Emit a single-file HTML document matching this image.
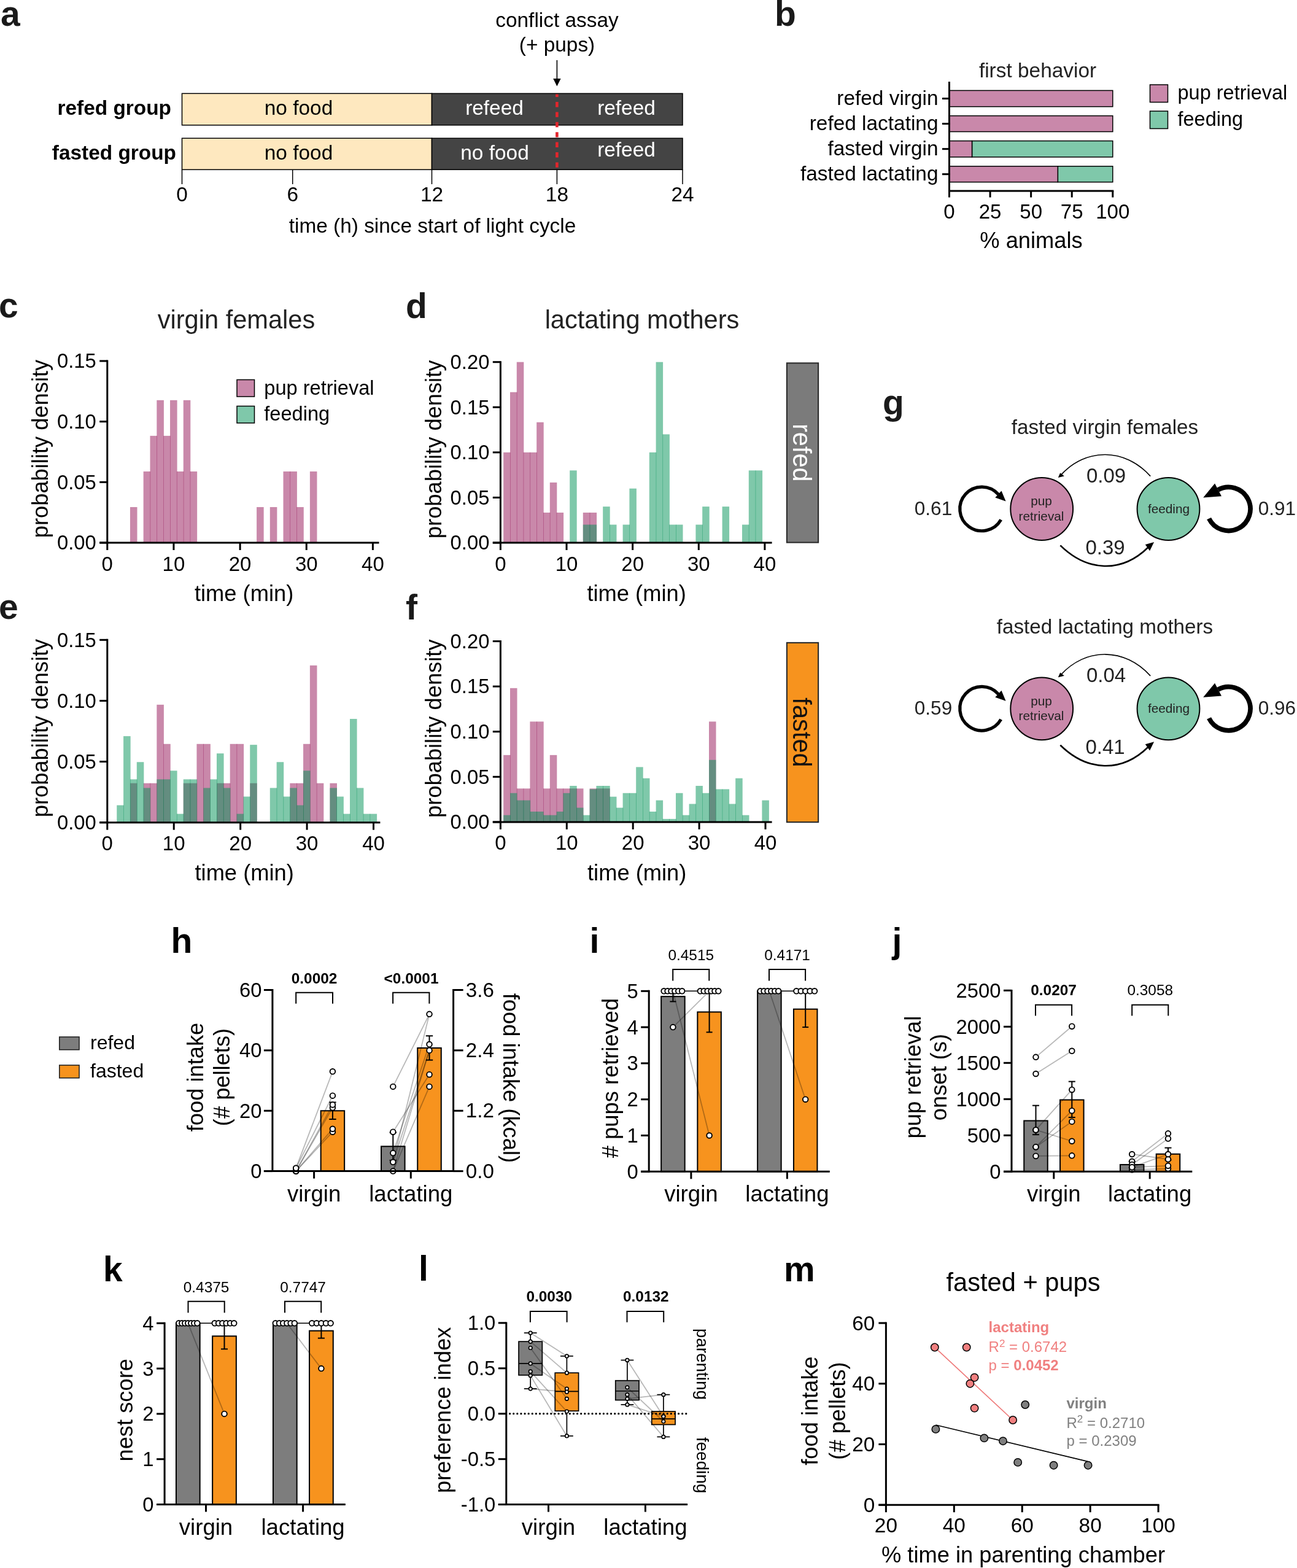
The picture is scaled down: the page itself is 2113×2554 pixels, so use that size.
<!DOCTYPE html>
<html lang="en">
<head>
<meta charset="utf-8">
<title>Figure</title>
<style>
html,body{margin:0;padding:0;background:#fff;}
body{width:2113px;height:2554px;overflow:hidden;}
svg{display:block;font-family:"Liberation Sans", sans-serif;}
svg text{white-space:pre;}
</style>
</head>
<body>
<svg width="2113" height="2554" viewBox="0 0 2113 2554">
<rect x="0" y="0" width="2113" height="2554" fill="#ffffff"/>
<g>
<text x="1.00" y="41.80" font-size="57" font-weight="bold" fill="#1a1a1a">a</text>
<rect x="296.50" y="152.30" width="407.00" height="51.50" fill="#fee8bf" stroke="#000" stroke-width="1.5"/>
<rect x="703.50" y="152.30" width="408.50" height="51.50" fill="#444444" stroke="#000" stroke-width="1.5"/>
<rect x="296.50" y="225.20" width="407.00" height="51.10" fill="#fee8bf" stroke="#000" stroke-width="1.5"/>
<rect x="703.50" y="225.20" width="408.50" height="51.10" fill="#444444" stroke="#000" stroke-width="1.5"/>
<line x1="907.40" y1="153.50" x2="907.40" y2="275.60" stroke="#e3262d" stroke-width="4.6" stroke-dasharray="8.4 8" stroke-dashoffset="3.9"/>
<line x1="296.50" y1="276.30" x2="296.50" y2="300.00" stroke="#000" stroke-width="1.5"/>
<text x="296.50" y="327.50" font-size="33.4" text-anchor="middle" fill="#000">0</text>
<line x1="476.70" y1="276.30" x2="476.70" y2="300.00" stroke="#000" stroke-width="1.5"/>
<text x="476.70" y="327.50" font-size="33.4" text-anchor="middle" fill="#000">6</text>
<line x1="703.50" y1="276.30" x2="703.50" y2="300.00" stroke="#000" stroke-width="1.5"/>
<text x="703.50" y="327.50" font-size="33.4" text-anchor="middle" fill="#000">12</text>
<line x1="907.40" y1="276.30" x2="907.40" y2="300.00" stroke="#000" stroke-width="1.5"/>
<text x="907.40" y="327.50" font-size="33.4" text-anchor="middle" fill="#000">18</text>
<line x1="1112.00" y1="276.30" x2="1112.00" y2="300.00" stroke="#000" stroke-width="1.5"/>
<text x="1112.00" y="327.50" font-size="33.4" text-anchor="middle" fill="#000">24</text>
<text x="486.50" y="186.90" font-size="33.4" text-anchor="middle" fill="#000">no food</text>
<text x="486.50" y="259.70" font-size="33.4" text-anchor="middle" fill="#000">no food</text>
<text x="805.50" y="187.10" font-size="33.4" text-anchor="middle" fill="#fff">refeed</text>
<text x="1020.50" y="187.10" font-size="33.4" text-anchor="middle" fill="#fff">refeed</text>
<text x="806.00" y="260.00" font-size="33.4" text-anchor="middle" fill="#fff">no food</text>
<text x="1020.50" y="255.00" font-size="33.4" text-anchor="middle" fill="#fff">refeed</text>
<text x="279.00" y="187.00" font-size="33.4" text-anchor="end" font-weight="bold" fill="#000">refed group</text>
<text x="287.00" y="260.00" font-size="33.4" text-anchor="end" font-weight="bold" fill="#000">fasted group</text>
<text x="907.50" y="43.70" font-size="33.4" text-anchor="middle" fill="#000">conflict assay</text>
<text x="907.50" y="83.70" font-size="33.4" text-anchor="middle" fill="#000">(+ pups)</text>
<line x1="907.40" y1="98.00" x2="907.40" y2="130.00" stroke="#000" stroke-width="1.6"/>
<path d="M901.2 128 L913.6 128 L907.4 140.5 Z" fill="#000"/>
<text x="704.50" y="379.00" font-size="33.4" text-anchor="middle" fill="#000">time (h) since start of light cycle</text>
</g>
<g>
<text x="1262.00" y="41.50" font-size="57" font-weight="bold" fill="#1a1a1a">b</text>
<text x="1690.50" y="126.00" font-size="33.4" text-anchor="middle" fill="#222">first behavior</text>
<rect x="1546.50" y="147.40" width="266.30" height="26.30" fill="#c988aa" stroke="#000" stroke-width="1.5"/>
<line x1="1535.00" y1="160.55" x2="1546.50" y2="160.55" stroke="#000" stroke-width="3"/>
<text x="1528.50" y="170.75" font-size="33.4" text-anchor="end" fill="#000">refed virgin</text>
<rect x="1546.50" y="188.60" width="266.30" height="25.90" fill="#c988aa" stroke="#000" stroke-width="1.5"/>
<line x1="1535.00" y1="201.55" x2="1546.50" y2="201.55" stroke="#000" stroke-width="3"/>
<text x="1528.50" y="211.75" font-size="33.4" text-anchor="end" fill="#000">refed lactating</text>
<rect x="1583.52" y="229.50" width="229.28" height="26.30" fill="#7fc8aa" stroke="#000" stroke-width="1.5"/>
<rect x="1546.50" y="229.50" width="37.02" height="26.30" fill="#c988aa" stroke="#000" stroke-width="1.5"/>
<line x1="1535.00" y1="242.65" x2="1546.50" y2="242.65" stroke="#000" stroke-width="3"/>
<text x="1528.50" y="252.85" font-size="33.4" text-anchor="end" fill="#000">fasted virgin</text>
<rect x="1723.32" y="270.80" width="89.48" height="25.80" fill="#7fc8aa" stroke="#000" stroke-width="1.5"/>
<rect x="1546.50" y="270.80" width="176.82" height="25.80" fill="#c988aa" stroke="#000" stroke-width="1.5"/>
<line x1="1535.00" y1="283.70" x2="1546.50" y2="283.70" stroke="#000" stroke-width="3"/>
<text x="1528.50" y="293.90" font-size="33.4" text-anchor="end" fill="#000">fasted lactating</text>
<line x1="1546.50" y1="133.00" x2="1546.50" y2="312.40" stroke="#000" stroke-width="3"/>
<line x1="1545.00" y1="310.90" x2="1814.30" y2="310.90" stroke="#000" stroke-width="3"/>
<line x1="1546.50" y1="310.90" x2="1546.50" y2="321.50" stroke="#000" stroke-width="3"/>
<text x="1546.50" y="355.80" font-size="33.1" text-anchor="middle" fill="#000">0</text>
<line x1="1613.08" y1="310.90" x2="1613.08" y2="321.50" stroke="#000" stroke-width="3"/>
<text x="1613.08" y="355.80" font-size="33.1" text-anchor="middle" fill="#000">25</text>
<line x1="1679.65" y1="310.90" x2="1679.65" y2="321.50" stroke="#000" stroke-width="3"/>
<text x="1679.65" y="355.80" font-size="33.1" text-anchor="middle" fill="#000">50</text>
<line x1="1746.22" y1="310.90" x2="1746.22" y2="321.50" stroke="#000" stroke-width="3"/>
<text x="1746.22" y="355.80" font-size="33.1" text-anchor="middle" fill="#000">75</text>
<line x1="1812.80" y1="310.90" x2="1812.80" y2="321.50" stroke="#000" stroke-width="3"/>
<text x="1812.80" y="355.80" font-size="33.1" text-anchor="middle" fill="#000">100</text>
<text x="1680.00" y="403.50" font-size="36.3" text-anchor="middle" fill="#000">% animals</text>
<rect x="1873.50" y="138.00" width="29.00" height="28.50" fill="#c988aa" stroke="#000" stroke-width="1.5"/>
<rect x="1873.50" y="181.00" width="29.00" height="28.50" fill="#7fc8aa" stroke="#000" stroke-width="1.5"/>
<text x="1918.50" y="162.40" font-size="32.5" fill="#000">pup retrieval</text>
<text x="1918.50" y="204.60" font-size="32.5" fill="#000">feeding</text>
</g>
<g>
<text x="-2.00" y="517.00" font-size="57" font-weight="bold" fill="#1a1a1a">c</text>
<text x="385.00" y="534.80" font-size="41.6" text-anchor="middle" fill="#222">virgin females</text>
<rect x="211.95" y="825.96" width="11.55" height="58.04" fill="#931155" fill-opacity="0.5"/>
<rect x="233.65" y="767.92" width="11.55" height="116.08" fill="#931155" fill-opacity="0.5"/>
<rect x="244.50" y="709.88" width="11.55" height="174.12" fill="#931155" fill-opacity="0.5"/>
<rect x="255.35" y="651.84" width="11.55" height="232.16" fill="#931155" fill-opacity="0.5"/>
<rect x="266.20" y="709.88" width="11.55" height="174.12" fill="#931155" fill-opacity="0.5"/>
<rect x="277.05" y="651.84" width="11.55" height="232.16" fill="#931155" fill-opacity="0.5"/>
<rect x="287.90" y="767.92" width="11.55" height="116.08" fill="#931155" fill-opacity="0.5"/>
<rect x="298.75" y="651.84" width="11.55" height="232.16" fill="#931155" fill-opacity="0.5"/>
<rect x="309.60" y="767.92" width="11.55" height="116.08" fill="#931155" fill-opacity="0.5"/>
<rect x="418.10" y="825.96" width="11.55" height="58.04" fill="#931155" fill-opacity="0.5"/>
<rect x="439.80" y="825.96" width="11.55" height="58.04" fill="#931155" fill-opacity="0.5"/>
<rect x="461.50" y="767.92" width="11.55" height="116.08" fill="#931155" fill-opacity="0.5"/>
<rect x="472.35" y="767.92" width="11.55" height="116.08" fill="#931155" fill-opacity="0.5"/>
<rect x="483.20" y="825.96" width="11.55" height="58.04" fill="#931155" fill-opacity="0.5"/>
<rect x="504.90" y="767.92" width="11.55" height="116.08" fill="#931155" fill-opacity="0.5"/>
<line x1="174.80" y1="586.50" x2="174.80" y2="885.50" stroke="#000" stroke-width="3"/>
<line x1="162.20" y1="884.00" x2="617.50" y2="884.00" stroke="#000" stroke-width="3"/>
<line x1="162.20" y1="884.00" x2="174.80" y2="884.00" stroke="#000" stroke-width="3"/>
<text x="156.80" y="895.30" font-size="32.8" text-anchor="end" fill="#000">0.00</text>
<line x1="162.20" y1="785.33" x2="174.80" y2="785.33" stroke="#000" stroke-width="3"/>
<text x="156.80" y="796.63" font-size="32.8" text-anchor="end" fill="#000">0.05</text>
<line x1="162.20" y1="686.67" x2="174.80" y2="686.67" stroke="#000" stroke-width="3"/>
<text x="156.80" y="697.97" font-size="32.8" text-anchor="end" fill="#000">0.10</text>
<line x1="162.20" y1="588.00" x2="174.80" y2="588.00" stroke="#000" stroke-width="3"/>
<text x="156.80" y="599.30" font-size="32.8" text-anchor="end" fill="#000">0.15</text>
<line x1="174.80" y1="884.00" x2="174.80" y2="896.00" stroke="#000" stroke-width="3"/>
<text x="174.80" y="929.50" font-size="33" text-anchor="middle" fill="#000">0</text>
<line x1="282.95" y1="884.00" x2="282.95" y2="896.00" stroke="#000" stroke-width="3"/>
<text x="282.95" y="929.50" font-size="33" text-anchor="middle" fill="#000">10</text>
<line x1="391.10" y1="884.00" x2="391.10" y2="896.00" stroke="#000" stroke-width="3"/>
<text x="391.10" y="929.50" font-size="33" text-anchor="middle" fill="#000">20</text>
<line x1="499.25" y1="884.00" x2="499.25" y2="896.00" stroke="#000" stroke-width="3"/>
<text x="499.25" y="929.50" font-size="33" text-anchor="middle" fill="#000">30</text>
<line x1="607.40" y1="884.00" x2="607.40" y2="896.00" stroke="#000" stroke-width="3"/>
<text x="607.40" y="929.50" font-size="33" text-anchor="middle" fill="#000">40</text>
<text x="78.30" y="731.00" font-size="36.3" text-anchor="middle" fill="#000" transform="rotate(-90 78.30 731.00)">probability density</text>
<text x="397.59" y="978.60" font-size="36.3" text-anchor="middle" fill="#000">time (min)</text>
<rect x="386.00" y="618.50" width="28.50" height="27.50" fill="#c988aa" stroke="#000" stroke-width="1.5"/>
<rect x="386.00" y="661.50" width="28.50" height="27.50" fill="#7fc8aa" stroke="#000" stroke-width="1.5"/>
<text x="430.30" y="642.80" font-size="32.6" fill="#000">pup retrieval</text>
<text x="430.30" y="685.00" font-size="32.6" fill="#000">feeding</text>
</g>
<g>
<text x="661.00" y="518.00" font-size="57" font-weight="bold" fill="#1a1a1a">d</text>
<text x="1046.00" y="534.60" font-size="41.6" text-anchor="middle" fill="#222">lactating mothers</text>
<rect x="820.20" y="736.85" width="11.50" height="147.15" fill="#931155" fill-opacity="0.5"/>
<rect x="831.00" y="638.75" width="11.50" height="245.25" fill="#931155" fill-opacity="0.5"/>
<rect x="841.80" y="589.70" width="11.50" height="294.30" fill="#931155" fill-opacity="0.5"/>
<rect x="852.60" y="736.85" width="11.50" height="147.15" fill="#931155" fill-opacity="0.5"/>
<rect x="863.40" y="736.85" width="11.50" height="147.15" fill="#931155" fill-opacity="0.5"/>
<rect x="874.20" y="687.80" width="11.50" height="196.20" fill="#931155" fill-opacity="0.5"/>
<rect x="885.00" y="834.95" width="11.50" height="49.05" fill="#931155" fill-opacity="0.5"/>
<rect x="895.80" y="785.90" width="11.50" height="98.10" fill="#931155" fill-opacity="0.5"/>
<rect x="906.60" y="834.95" width="11.50" height="49.05" fill="#931155" fill-opacity="0.5"/>
<rect x="949.80" y="834.95" width="11.50" height="49.05" fill="#931155" fill-opacity="0.5"/>
<rect x="960.60" y="834.95" width="11.50" height="49.05" fill="#931155" fill-opacity="0.5"/>
<rect x="928.20" y="766.28" width="11.50" height="117.72" fill="#009155" fill-opacity="0.5"/>
<rect x="949.80" y="854.57" width="11.50" height="29.43" fill="#009155" fill-opacity="0.5"/>
<rect x="960.60" y="854.57" width="11.50" height="29.43" fill="#009155" fill-opacity="0.5"/>
<rect x="982.20" y="825.14" width="11.50" height="58.86" fill="#009155" fill-opacity="0.5"/>
<rect x="993.00" y="854.57" width="11.50" height="29.43" fill="#009155" fill-opacity="0.5"/>
<rect x="1014.60" y="854.57" width="11.50" height="29.43" fill="#009155" fill-opacity="0.5"/>
<rect x="1025.40" y="795.71" width="11.50" height="88.29" fill="#009155" fill-opacity="0.5"/>
<rect x="1057.80" y="736.85" width="11.50" height="147.15" fill="#009155" fill-opacity="0.5"/>
<rect x="1068.60" y="589.70" width="11.50" height="294.30" fill="#009155" fill-opacity="0.5"/>
<rect x="1079.40" y="707.42" width="11.50" height="176.58" fill="#009155" fill-opacity="0.5"/>
<rect x="1090.20" y="854.57" width="11.50" height="29.43" fill="#009155" fill-opacity="0.5"/>
<rect x="1101.00" y="854.57" width="11.50" height="29.43" fill="#009155" fill-opacity="0.5"/>
<rect x="1133.40" y="854.57" width="11.50" height="29.43" fill="#009155" fill-opacity="0.5"/>
<rect x="1144.20" y="825.14" width="11.50" height="58.86" fill="#009155" fill-opacity="0.5"/>
<rect x="1176.60" y="825.14" width="11.50" height="58.86" fill="#009155" fill-opacity="0.5"/>
<rect x="1209.00" y="854.57" width="11.50" height="29.43" fill="#009155" fill-opacity="0.5"/>
<rect x="1219.80" y="766.28" width="11.50" height="117.72" fill="#009155" fill-opacity="0.5"/>
<rect x="1230.60" y="766.28" width="11.50" height="117.72" fill="#009155" fill-opacity="0.5"/>
<line x1="815.40" y1="588.20" x2="815.40" y2="885.50" stroke="#000" stroke-width="3"/>
<line x1="802.80" y1="884.00" x2="1257.60" y2="884.00" stroke="#000" stroke-width="3"/>
<line x1="802.80" y1="884.00" x2="815.40" y2="884.00" stroke="#000" stroke-width="3"/>
<text x="797.40" y="895.30" font-size="32.8" text-anchor="end" fill="#000">0.00</text>
<line x1="802.80" y1="810.42" x2="815.40" y2="810.42" stroke="#000" stroke-width="3"/>
<text x="797.40" y="821.72" font-size="32.8" text-anchor="end" fill="#000">0.05</text>
<line x1="802.80" y1="736.85" x2="815.40" y2="736.85" stroke="#000" stroke-width="3"/>
<text x="797.40" y="748.15" font-size="32.8" text-anchor="end" fill="#000">0.10</text>
<line x1="802.80" y1="663.28" x2="815.40" y2="663.28" stroke="#000" stroke-width="3"/>
<text x="797.40" y="674.58" font-size="32.8" text-anchor="end" fill="#000">0.15</text>
<line x1="802.80" y1="589.70" x2="815.40" y2="589.70" stroke="#000" stroke-width="3"/>
<text x="797.40" y="601.00" font-size="32.8" text-anchor="end" fill="#000">0.20</text>
<line x1="815.40" y1="884.00" x2="815.40" y2="896.00" stroke="#000" stroke-width="3"/>
<text x="815.40" y="929.50" font-size="33" text-anchor="middle" fill="#000">0</text>
<line x1="923.02" y1="884.00" x2="923.02" y2="896.00" stroke="#000" stroke-width="3"/>
<text x="923.02" y="929.50" font-size="33" text-anchor="middle" fill="#000">10</text>
<line x1="1030.65" y1="884.00" x2="1030.65" y2="896.00" stroke="#000" stroke-width="3"/>
<text x="1030.65" y="929.50" font-size="33" text-anchor="middle" fill="#000">20</text>
<line x1="1138.28" y1="884.00" x2="1138.28" y2="896.00" stroke="#000" stroke-width="3"/>
<text x="1138.28" y="929.50" font-size="33" text-anchor="middle" fill="#000">30</text>
<line x1="1245.90" y1="884.00" x2="1245.90" y2="896.00" stroke="#000" stroke-width="3"/>
<text x="1245.90" y="929.50" font-size="33" text-anchor="middle" fill="#000">40</text>
<text x="718.90" y="731.85" font-size="36.3" text-anchor="middle" fill="#000" transform="rotate(-90 718.90 731.85)">probability density</text>
<text x="1037.11" y="978.60" font-size="36.3" text-anchor="middle" fill="#000">time (min)</text>
<rect x="1281.90" y="591.40" width="51.20" height="292.20" fill="#7b7b7b" stroke="#2a2a2a" stroke-width="2.1"/>
<text x="1292.00" y="737.30" font-size="41.6" text-anchor="middle" fill="#fff" transform="rotate(90 1292.00 737.30)">refed</text>
</g>
<g>
<text x="-2.00" y="1007.50" font-size="57" font-weight="bold" fill="#1a1a1a">e</text>
<rect x="211.95" y="1275.74" width="11.55" height="63.96" fill="#931155" fill-opacity="0.5"/>
<rect x="233.65" y="1275.74" width="11.55" height="63.96" fill="#931155" fill-opacity="0.5"/>
<rect x="244.50" y="1275.74" width="11.55" height="63.96" fill="#931155" fill-opacity="0.5"/>
<rect x="255.35" y="1147.83" width="11.55" height="191.87" fill="#931155" fill-opacity="0.5"/>
<rect x="266.20" y="1211.79" width="11.55" height="127.91" fill="#931155" fill-opacity="0.5"/>
<rect x="298.75" y="1275.74" width="11.55" height="63.96" fill="#931155" fill-opacity="0.5"/>
<rect x="309.60" y="1275.74" width="11.55" height="63.96" fill="#931155" fill-opacity="0.5"/>
<rect x="320.45" y="1211.79" width="11.55" height="127.91" fill="#931155" fill-opacity="0.5"/>
<rect x="331.30" y="1211.79" width="11.55" height="127.91" fill="#931155" fill-opacity="0.5"/>
<rect x="353.00" y="1275.74" width="11.55" height="63.96" fill="#931155" fill-opacity="0.5"/>
<rect x="363.85" y="1275.74" width="11.55" height="63.96" fill="#931155" fill-opacity="0.5"/>
<rect x="374.70" y="1211.79" width="11.55" height="127.91" fill="#931155" fill-opacity="0.5"/>
<rect x="385.55" y="1211.79" width="11.55" height="127.91" fill="#931155" fill-opacity="0.5"/>
<rect x="407.25" y="1275.74" width="11.55" height="63.96" fill="#931155" fill-opacity="0.5"/>
<rect x="472.35" y="1275.74" width="11.55" height="63.96" fill="#931155" fill-opacity="0.5"/>
<rect x="483.20" y="1275.74" width="11.55" height="63.96" fill="#931155" fill-opacity="0.5"/>
<rect x="494.05" y="1211.79" width="11.55" height="127.91" fill="#931155" fill-opacity="0.5"/>
<rect x="504.90" y="1083.87" width="11.55" height="255.83" fill="#931155" fill-opacity="0.5"/>
<rect x="515.75" y="1275.74" width="11.55" height="63.96" fill="#931155" fill-opacity="0.5"/>
<rect x="537.45" y="1275.74" width="11.55" height="63.96" fill="#931155" fill-opacity="0.5"/>
<rect x="190.25" y="1311.58" width="11.55" height="28.12" fill="#009155" fill-opacity="0.5"/>
<rect x="201.10" y="1199.09" width="11.55" height="140.61" fill="#009155" fill-opacity="0.5"/>
<rect x="211.95" y="1269.39" width="11.55" height="70.31" fill="#009155" fill-opacity="0.5"/>
<rect x="222.80" y="1241.27" width="11.55" height="98.43" fill="#009155" fill-opacity="0.5"/>
<rect x="233.65" y="1283.45" width="11.55" height="56.25" fill="#009155" fill-opacity="0.5"/>
<rect x="255.35" y="1269.39" width="11.55" height="70.31" fill="#009155" fill-opacity="0.5"/>
<rect x="266.20" y="1269.39" width="11.55" height="70.31" fill="#009155" fill-opacity="0.5"/>
<rect x="277.05" y="1255.33" width="11.55" height="84.37" fill="#009155" fill-opacity="0.5"/>
<rect x="287.90" y="1325.64" width="11.55" height="14.06" fill="#009155" fill-opacity="0.5"/>
<rect x="298.75" y="1269.39" width="11.55" height="70.31" fill="#009155" fill-opacity="0.5"/>
<rect x="309.60" y="1269.39" width="11.55" height="70.31" fill="#009155" fill-opacity="0.5"/>
<rect x="331.30" y="1283.45" width="11.55" height="56.25" fill="#009155" fill-opacity="0.5"/>
<rect x="342.15" y="1269.39" width="11.55" height="70.31" fill="#009155" fill-opacity="0.5"/>
<rect x="353.00" y="1227.21" width="11.55" height="112.49" fill="#009155" fill-opacity="0.5"/>
<rect x="363.85" y="1283.45" width="11.55" height="56.25" fill="#009155" fill-opacity="0.5"/>
<rect x="385.55" y="1325.64" width="11.55" height="14.06" fill="#009155" fill-opacity="0.5"/>
<rect x="396.40" y="1297.52" width="11.55" height="42.18" fill="#009155" fill-opacity="0.5"/>
<rect x="407.25" y="1213.15" width="11.55" height="126.55" fill="#009155" fill-opacity="0.5"/>
<rect x="439.80" y="1283.45" width="11.55" height="56.25" fill="#009155" fill-opacity="0.5"/>
<rect x="450.65" y="1241.27" width="11.55" height="98.43" fill="#009155" fill-opacity="0.5"/>
<rect x="461.50" y="1297.52" width="11.55" height="42.18" fill="#009155" fill-opacity="0.5"/>
<rect x="472.35" y="1283.45" width="11.55" height="56.25" fill="#009155" fill-opacity="0.5"/>
<rect x="483.20" y="1311.58" width="11.55" height="28.12" fill="#009155" fill-opacity="0.5"/>
<rect x="494.05" y="1255.33" width="11.55" height="84.37" fill="#009155" fill-opacity="0.5"/>
<rect x="537.45" y="1283.45" width="11.55" height="56.25" fill="#009155" fill-opacity="0.5"/>
<rect x="548.30" y="1297.52" width="11.55" height="42.18" fill="#009155" fill-opacity="0.5"/>
<rect x="559.15" y="1325.64" width="11.55" height="14.06" fill="#009155" fill-opacity="0.5"/>
<rect x="570.00" y="1170.96" width="11.55" height="168.74" fill="#009155" fill-opacity="0.5"/>
<rect x="580.85" y="1283.45" width="11.55" height="56.25" fill="#009155" fill-opacity="0.5"/>
<rect x="591.70" y="1325.64" width="11.55" height="14.06" fill="#009155" fill-opacity="0.5"/>
<rect x="602.55" y="1325.64" width="11.55" height="14.06" fill="#009155" fill-opacity="0.5"/>
<line x1="174.80" y1="1040.80" x2="174.80" y2="1341.20" stroke="#000" stroke-width="3"/>
<line x1="162.20" y1="1339.70" x2="619.40" y2="1339.70" stroke="#000" stroke-width="3"/>
<line x1="162.20" y1="1339.70" x2="174.80" y2="1339.70" stroke="#000" stroke-width="3"/>
<text x="156.80" y="1351.00" font-size="32.8" text-anchor="end" fill="#000">0.00</text>
<line x1="162.20" y1="1240.57" x2="174.80" y2="1240.57" stroke="#000" stroke-width="3"/>
<text x="156.80" y="1251.87" font-size="32.8" text-anchor="end" fill="#000">0.05</text>
<line x1="162.20" y1="1141.43" x2="174.80" y2="1141.43" stroke="#000" stroke-width="3"/>
<text x="156.80" y="1152.73" font-size="32.8" text-anchor="end" fill="#000">0.10</text>
<line x1="162.20" y1="1042.30" x2="174.80" y2="1042.30" stroke="#000" stroke-width="3"/>
<text x="156.80" y="1053.60" font-size="32.8" text-anchor="end" fill="#000">0.15</text>
<line x1="174.80" y1="1339.70" x2="174.80" y2="1351.70" stroke="#000" stroke-width="3"/>
<text x="174.80" y="1385.20" font-size="33" text-anchor="middle" fill="#000">0</text>
<line x1="283.23" y1="1339.70" x2="283.23" y2="1351.70" stroke="#000" stroke-width="3"/>
<text x="283.23" y="1385.20" font-size="33" text-anchor="middle" fill="#000">10</text>
<line x1="391.65" y1="1339.70" x2="391.65" y2="1351.70" stroke="#000" stroke-width="3"/>
<text x="391.65" y="1385.20" font-size="33" text-anchor="middle" fill="#000">20</text>
<line x1="500.07" y1="1339.70" x2="500.07" y2="1351.70" stroke="#000" stroke-width="3"/>
<text x="500.07" y="1385.20" font-size="33" text-anchor="middle" fill="#000">30</text>
<line x1="608.50" y1="1339.70" x2="608.50" y2="1351.70" stroke="#000" stroke-width="3"/>
<text x="608.50" y="1385.20" font-size="33" text-anchor="middle" fill="#000">40</text>
<text x="78.30" y="1186.00" font-size="36.3" text-anchor="middle" fill="#000" transform="rotate(-90 78.30 1186.00)">probability density</text>
<text x="398.16" y="1434.30" font-size="36.3" text-anchor="middle" fill="#000">time (min)</text>
</g>
<g>
<text x="661.00" y="1009.00" font-size="57" font-weight="bold" fill="#1a1a1a">f</text>
<rect x="820.20" y="1229.86" width="11.50" height="109.04" fill="#931155" fill-opacity="0.5"/>
<rect x="831.00" y="1120.83" width="11.50" height="218.07" fill="#931155" fill-opacity="0.5"/>
<rect x="841.80" y="1284.38" width="11.50" height="54.52" fill="#931155" fill-opacity="0.5"/>
<rect x="852.60" y="1284.38" width="11.50" height="54.52" fill="#931155" fill-opacity="0.5"/>
<rect x="863.40" y="1175.34" width="11.50" height="163.56" fill="#931155" fill-opacity="0.5"/>
<rect x="874.20" y="1175.34" width="11.50" height="163.56" fill="#931155" fill-opacity="0.5"/>
<rect x="885.00" y="1284.38" width="11.50" height="54.52" fill="#931155" fill-opacity="0.5"/>
<rect x="895.80" y="1229.86" width="11.50" height="109.04" fill="#931155" fill-opacity="0.5"/>
<rect x="906.60" y="1284.38" width="11.50" height="54.52" fill="#931155" fill-opacity="0.5"/>
<rect x="917.40" y="1284.38" width="11.50" height="54.52" fill="#931155" fill-opacity="0.5"/>
<rect x="928.20" y="1284.38" width="11.50" height="54.52" fill="#931155" fill-opacity="0.5"/>
<rect x="939.00" y="1284.38" width="11.50" height="54.52" fill="#931155" fill-opacity="0.5"/>
<rect x="960.60" y="1284.38" width="11.50" height="54.52" fill="#931155" fill-opacity="0.5"/>
<rect x="971.40" y="1284.38" width="11.50" height="54.52" fill="#931155" fill-opacity="0.5"/>
<rect x="982.20" y="1284.38" width="11.50" height="54.52" fill="#931155" fill-opacity="0.5"/>
<rect x="1155.00" y="1175.34" width="11.50" height="163.56" fill="#931155" fill-opacity="0.5"/>
<rect x="820.20" y="1327.71" width="11.50" height="11.19" fill="#009155" fill-opacity="0.5"/>
<rect x="831.00" y="1291.80" width="11.50" height="47.10" fill="#009155" fill-opacity="0.5"/>
<rect x="841.80" y="1303.57" width="11.50" height="35.33" fill="#009155" fill-opacity="0.5"/>
<rect x="852.60" y="1303.57" width="11.50" height="35.33" fill="#009155" fill-opacity="0.5"/>
<rect x="863.40" y="1321.97" width="11.50" height="16.93" fill="#009155" fill-opacity="0.5"/>
<rect x="874.20" y="1321.97" width="11.50" height="16.93" fill="#009155" fill-opacity="0.5"/>
<rect x="885.00" y="1327.71" width="11.50" height="11.19" fill="#009155" fill-opacity="0.5"/>
<rect x="895.80" y="1327.71" width="11.50" height="11.19" fill="#009155" fill-opacity="0.5"/>
<rect x="906.60" y="1321.97" width="11.50" height="16.93" fill="#009155" fill-opacity="0.5"/>
<rect x="917.40" y="1291.80" width="11.50" height="47.10" fill="#009155" fill-opacity="0.5"/>
<rect x="928.20" y="1280.02" width="11.50" height="58.88" fill="#009155" fill-opacity="0.5"/>
<rect x="939.00" y="1315.64" width="11.50" height="23.26" fill="#009155" fill-opacity="0.5"/>
<rect x="949.80" y="1327.71" width="11.50" height="11.19" fill="#009155" fill-opacity="0.5"/>
<rect x="960.60" y="1285.47" width="11.50" height="53.43" fill="#009155" fill-opacity="0.5"/>
<rect x="971.40" y="1280.02" width="11.50" height="58.88" fill="#009155" fill-opacity="0.5"/>
<rect x="982.20" y="1280.02" width="11.50" height="58.88" fill="#009155" fill-opacity="0.5"/>
<rect x="993.00" y="1297.68" width="11.50" height="41.22" fill="#009155" fill-opacity="0.5"/>
<rect x="1003.80" y="1315.64" width="11.50" height="23.26" fill="#009155" fill-opacity="0.5"/>
<rect x="1014.60" y="1291.80" width="11.50" height="47.10" fill="#009155" fill-opacity="0.5"/>
<rect x="1025.40" y="1291.80" width="11.50" height="47.10" fill="#009155" fill-opacity="0.5"/>
<rect x="1036.20" y="1249.40" width="11.50" height="89.50" fill="#009155" fill-opacity="0.5"/>
<rect x="1047.00" y="1267.66" width="11.50" height="71.24" fill="#009155" fill-opacity="0.5"/>
<rect x="1057.80" y="1321.97" width="11.50" height="16.93" fill="#009155" fill-opacity="0.5"/>
<rect x="1068.60" y="1303.57" width="11.50" height="35.33" fill="#009155" fill-opacity="0.5"/>
<rect x="1079.40" y="1333.90" width="11.50" height="5.00" fill="#009155" fill-opacity="0.5"/>
<rect x="1090.20" y="1333.90" width="11.50" height="5.00" fill="#009155" fill-opacity="0.5"/>
<rect x="1101.00" y="1291.80" width="11.50" height="47.10" fill="#009155" fill-opacity="0.5"/>
<rect x="1111.80" y="1327.71" width="11.50" height="11.19" fill="#009155" fill-opacity="0.5"/>
<rect x="1122.60" y="1309.46" width="11.50" height="29.44" fill="#009155" fill-opacity="0.5"/>
<rect x="1133.40" y="1280.02" width="11.50" height="58.88" fill="#009155" fill-opacity="0.5"/>
<rect x="1144.20" y="1291.80" width="11.50" height="47.10" fill="#009155" fill-opacity="0.5"/>
<rect x="1155.00" y="1237.77" width="11.50" height="101.13" fill="#009155" fill-opacity="0.5"/>
<rect x="1165.80" y="1285.47" width="11.50" height="53.43" fill="#009155" fill-opacity="0.5"/>
<rect x="1176.60" y="1285.47" width="11.50" height="53.43" fill="#009155" fill-opacity="0.5"/>
<rect x="1187.40" y="1309.46" width="11.50" height="29.44" fill="#009155" fill-opacity="0.5"/>
<rect x="1198.20" y="1267.66" width="11.50" height="71.24" fill="#009155" fill-opacity="0.5"/>
<rect x="1209.00" y="1327.71" width="11.50" height="11.19" fill="#009155" fill-opacity="0.5"/>
<rect x="1241.40" y="1303.57" width="11.50" height="35.33" fill="#009155" fill-opacity="0.5"/>
<line x1="815.40" y1="1043.00" x2="815.40" y2="1340.40" stroke="#000" stroke-width="3"/>
<line x1="802.80" y1="1338.90" x2="1257.60" y2="1338.90" stroke="#000" stroke-width="3"/>
<line x1="802.80" y1="1338.90" x2="815.40" y2="1338.90" stroke="#000" stroke-width="3"/>
<text x="797.40" y="1350.20" font-size="32.8" text-anchor="end" fill="#000">0.00</text>
<line x1="802.80" y1="1265.30" x2="815.40" y2="1265.30" stroke="#000" stroke-width="3"/>
<text x="797.40" y="1276.60" font-size="32.8" text-anchor="end" fill="#000">0.05</text>
<line x1="802.80" y1="1191.70" x2="815.40" y2="1191.70" stroke="#000" stroke-width="3"/>
<text x="797.40" y="1203.00" font-size="32.8" text-anchor="end" fill="#000">0.10</text>
<line x1="802.80" y1="1118.10" x2="815.40" y2="1118.10" stroke="#000" stroke-width="3"/>
<text x="797.40" y="1129.40" font-size="32.8" text-anchor="end" fill="#000">0.15</text>
<line x1="802.80" y1="1044.50" x2="815.40" y2="1044.50" stroke="#000" stroke-width="3"/>
<text x="797.40" y="1055.80" font-size="32.8" text-anchor="end" fill="#000">0.20</text>
<line x1="815.40" y1="1338.90" x2="815.40" y2="1350.90" stroke="#000" stroke-width="3"/>
<text x="815.40" y="1384.40" font-size="33" text-anchor="middle" fill="#000">0</text>
<line x1="923.30" y1="1338.90" x2="923.30" y2="1350.90" stroke="#000" stroke-width="3"/>
<text x="923.30" y="1384.40" font-size="33" text-anchor="middle" fill="#000">10</text>
<line x1="1031.20" y1="1338.90" x2="1031.20" y2="1350.90" stroke="#000" stroke-width="3"/>
<text x="1031.20" y="1384.40" font-size="33" text-anchor="middle" fill="#000">20</text>
<line x1="1139.10" y1="1338.90" x2="1139.10" y2="1350.90" stroke="#000" stroke-width="3"/>
<text x="1139.10" y="1384.40" font-size="33" text-anchor="middle" fill="#000">30</text>
<line x1="1247.00" y1="1338.90" x2="1247.00" y2="1350.90" stroke="#000" stroke-width="3"/>
<text x="1247.00" y="1384.40" font-size="33" text-anchor="middle" fill="#000">40</text>
<text x="718.90" y="1186.70" font-size="36.3" text-anchor="middle" fill="#000" transform="rotate(-90 718.90 1186.70)">probability density</text>
<text x="1037.67" y="1433.50" font-size="36.3" text-anchor="middle" fill="#000">time (min)</text>
<rect x="1281.90" y="1046.90" width="51.20" height="292.20" fill="#f7931e" stroke="#2a2a2a" stroke-width="2.1"/>
<text x="1292.00" y="1193.00" font-size="41.6" text-anchor="middle" fill="#111" transform="rotate(90 1292.00 1193.00)">fasted</text>
</g>
<g>
<text x="1438.00" y="675.00" font-size="57" font-weight="bold" fill="#1a1a1a">g</text>
<text x="1800.00" y="706.70" font-size="33.2" text-anchor="middle" fill="#222">fasted virgin females</text>
<path d="M1874.2 775.6 C1832.7 729.5 1769 728.5 1727.5 774.6" fill="none" stroke="#000" stroke-width="1.6"/>
<path d="M1723.8 777.9 L1727.2 770.2 L1733.8 775.4 Z" fill="#000"/>
<path d="M1727.4 888.4 C1771 931.1 1826.9 934.2 1870.5 891.5" fill="none" stroke="#000" stroke-width="2.6"/>
<path d="M1880.1 883.0 L1873.1 897.2 L1865.8 887.0 Z" fill="#000"/>
<path d="M1630.7 846.5 A35.8 35.8 0 1 1 1626.5 805.3" fill="none" stroke="#000" stroke-width="5.2"/>
<path d="M1638.6 816.4 L1621.3 810.4 L1631.5 799.4 Z" fill="#000"/>
<path d="M1969.6 844.6 A35.5 35.5 0 1 0 1984.4 797.9" fill="none" stroke="#000" stroke-width="7.7"/>
<path d="M1960.2 810.4 L1979.1 787.4 L1990 808.2 Z" fill="#000"/>
<circle cx="1697.20" cy="829.00" r="50.90" fill="#c988aa" stroke="#000" stroke-width="2.0"/>
<circle cx="1903.50" cy="829.00" r="50.90" fill="#7fc8aa" stroke="#000" stroke-width="2.0"/>
<text x="1696.50" y="823.20" font-size="20.8" text-anchor="middle" fill="#222">pup</text>
<text x="1696.50" y="847.80" font-size="20.8" text-anchor="middle" fill="#222">retrieval</text>
<text x="1904.00" y="835.80" font-size="20.8" text-anchor="middle" fill="#222">feeding</text>
<text x="1520.50" y="838.80" font-size="31.6" text-anchor="middle" fill="#222">0.61</text>
<text x="2080.40" y="838.80" font-size="31.6" text-anchor="middle" fill="#222">0.91</text>
<text x="1802.00" y="785.60" font-size="33" text-anchor="middle" fill="#222">0.09</text>
<text x="1800.50" y="902.80" font-size="33" text-anchor="middle" fill="#222">0.39</text>
<text x="1800.00" y="1032.00" font-size="33.2" text-anchor="middle" fill="#222">fasted lactating mothers</text>
<path d="M1874.2 1100.9 C1832.7 1054.8 1769 1053.8 1727.5 1099.9" fill="none" stroke="#000" stroke-width="1.6"/>
<path d="M1723.8 1103.2 L1727.2 1095.5 L1733.8 1100.7 Z" fill="#000"/>
<path d="M1727.4 1213.7 C1771 1256.4 1826.9 1259.5 1870.5 1216.8" fill="none" stroke="#000" stroke-width="2.6"/>
<path d="M1880.1 1208.3 L1873.1 1222.5 L1865.8 1212.3 Z" fill="#000"/>
<path d="M1630.7 1171.8 A35.8 35.8 0 1 1 1626.5 1130.6" fill="none" stroke="#000" stroke-width="5.2"/>
<path d="M1638.6 1141.7 L1621.3 1135.7 L1631.5 1124.7 Z" fill="#000"/>
<path d="M1969.6 1169.9 A35.5 35.5 0 1 0 1984.4 1123.2" fill="none" stroke="#000" stroke-width="7.7"/>
<path d="M1960.2 1135.7 L1979.1 1112.7 L1990 1133.5 Z" fill="#000"/>
<circle cx="1697.20" cy="1154.30" r="50.90" fill="#c988aa" stroke="#000" stroke-width="2.0"/>
<circle cx="1903.50" cy="1154.30" r="50.90" fill="#7fc8aa" stroke="#000" stroke-width="2.0"/>
<text x="1696.50" y="1148.50" font-size="20.8" text-anchor="middle" fill="#222">pup</text>
<text x="1696.50" y="1173.10" font-size="20.8" text-anchor="middle" fill="#222">retrieval</text>
<text x="1904.00" y="1161.10" font-size="20.8" text-anchor="middle" fill="#222">feeding</text>
<text x="1520.50" y="1164.10" font-size="31.6" text-anchor="middle" fill="#222">0.59</text>
<text x="2080.40" y="1164.10" font-size="31.6" text-anchor="middle" fill="#222">0.96</text>
<text x="1802.00" y="1110.90" font-size="33" text-anchor="middle" fill="#222">0.04</text>
<text x="1800.50" y="1228.10" font-size="33" text-anchor="middle" fill="#222">0.41</text>
</g>
<g>
<text x="278.50" y="1551.50" font-size="57" font-weight="bold" fill="#000">h</text>
<rect x="96.80" y="1689.00" width="32.20" height="20.80" fill="#7d7d7d" stroke="#222" stroke-width="1.6"/>
<rect x="96.80" y="1735.00" width="32.20" height="20.80" fill="#f7931e" stroke="#222" stroke-width="1.6"/>
<text x="147.00" y="1709.10" font-size="32" fill="#000">refed</text>
<text x="147.00" y="1755.10" font-size="32" fill="#000">fasted</text>
<rect x="522.65" y="1809.24" width="38.50" height="98.36" fill="#f7931e" stroke="#000" stroke-width="2"/>
<rect x="621.05" y="1867.27" width="38.50" height="40.33" fill="#7d7d7d" stroke="#000" stroke-width="2"/>
<rect x="680.25" y="1706.95" width="38.50" height="200.65" fill="#f7931e" stroke="#000" stroke-width="2"/>
<line x1="482.20" y1="1907.60" x2="541.90" y2="1843.67" stroke="#000" stroke-width="1.8" stroke-opacity="0.28"/>
<line x1="482.20" y1="1907.60" x2="541.90" y2="1838.75" stroke="#000" stroke-width="1.8" stroke-opacity="0.28"/>
<line x1="482.20" y1="1907.60" x2="541.90" y2="1804.32" stroke="#000" stroke-width="1.8" stroke-opacity="0.28"/>
<line x1="482.20" y1="1907.60" x2="541.90" y2="1799.40" stroke="#000" stroke-width="1.8" stroke-opacity="0.28"/>
<line x1="482.20" y1="1902.68" x2="541.90" y2="1784.65" stroke="#000" stroke-width="1.8" stroke-opacity="0.28"/>
<line x1="482.20" y1="1902.68" x2="541.90" y2="1745.31" stroke="#000" stroke-width="1.8" stroke-opacity="0.28"/>
<line x1="640.30" y1="1769.90" x2="699.50" y2="1651.86" stroke="#000" stroke-width="1.8" stroke-opacity="0.28"/>
<line x1="640.30" y1="1892.85" x2="699.50" y2="1651.86" stroke="#000" stroke-width="1.8" stroke-opacity="0.28"/>
<line x1="640.30" y1="1843.67" x2="699.50" y2="1750.22" stroke="#000" stroke-width="1.8" stroke-opacity="0.28"/>
<line x1="640.30" y1="1878.09" x2="699.50" y2="1701.04" stroke="#000" stroke-width="1.8" stroke-opacity="0.28"/>
<line x1="640.30" y1="1907.60" x2="699.50" y2="1710.88" stroke="#000" stroke-width="1.8" stroke-opacity="0.28"/>
<line x1="640.30" y1="1892.85" x2="699.50" y2="1710.88" stroke="#000" stroke-width="1.8" stroke-opacity="0.28"/>
<line x1="640.30" y1="1907.60" x2="699.50" y2="1769.90" stroke="#000" stroke-width="1.8" stroke-opacity="0.28"/>
<line x1="541.90" y1="1795.47" x2="541.90" y2="1823.01" stroke="#000" stroke-width="2"/>
<line x1="536.20" y1="1795.47" x2="547.60" y2="1795.47" stroke="#000" stroke-width="2"/>
<line x1="536.20" y1="1823.01" x2="547.60" y2="1823.01" stroke="#000" stroke-width="2"/>
<line x1="640.30" y1="1844.65" x2="640.30" y2="1889.90" stroke="#000" stroke-width="2"/>
<line x1="634.60" y1="1844.65" x2="646.00" y2="1844.65" stroke="#000" stroke-width="2"/>
<line x1="634.60" y1="1889.90" x2="646.00" y2="1889.90" stroke="#000" stroke-width="2"/>
<line x1="699.50" y1="1687.27" x2="699.50" y2="1726.62" stroke="#000" stroke-width="2"/>
<line x1="693.80" y1="1687.27" x2="705.20" y2="1687.27" stroke="#000" stroke-width="2"/>
<line x1="693.80" y1="1726.62" x2="705.20" y2="1726.62" stroke="#000" stroke-width="2"/>
<circle cx="482.20" cy="1907.60" r="4.30" fill="#fff" stroke="#000" stroke-width="1.9"/>
<circle cx="482.20" cy="1907.60" r="4.30" fill="#fff" stroke="#000" stroke-width="1.9"/>
<circle cx="482.20" cy="1907.60" r="4.30" fill="#fff" stroke="#000" stroke-width="1.9"/>
<circle cx="482.20" cy="1907.60" r="4.30" fill="#fff" stroke="#000" stroke-width="1.9"/>
<circle cx="482.20" cy="1902.68" r="4.30" fill="#fff" stroke="#000" stroke-width="1.9"/>
<circle cx="482.20" cy="1902.68" r="4.30" fill="#fff" stroke="#000" stroke-width="1.9"/>
<circle cx="541.90" cy="1843.67" r="4.30" fill="#fff" stroke="#000" stroke-width="1.9"/>
<circle cx="541.90" cy="1838.75" r="4.30" fill="#fff" stroke="#000" stroke-width="1.9"/>
<circle cx="541.90" cy="1804.32" r="4.30" fill="#fff" stroke="#000" stroke-width="1.9"/>
<circle cx="541.90" cy="1799.40" r="4.30" fill="#fff" stroke="#000" stroke-width="1.9"/>
<circle cx="541.90" cy="1784.65" r="4.30" fill="#fff" stroke="#000" stroke-width="1.9"/>
<circle cx="541.90" cy="1745.31" r="4.30" fill="#fff" stroke="#000" stroke-width="1.9"/>
<circle cx="640.30" cy="1907.60" r="4.30" fill="#fff" stroke="#000" stroke-width="1.9"/>
<circle cx="640.30" cy="1892.85" r="4.30" fill="#fff" stroke="#000" stroke-width="1.9"/>
<circle cx="640.30" cy="1878.09" r="4.30" fill="#fff" stroke="#000" stroke-width="1.9"/>
<circle cx="640.30" cy="1843.67" r="4.30" fill="#fff" stroke="#000" stroke-width="1.9"/>
<circle cx="640.30" cy="1769.90" r="4.30" fill="#fff" stroke="#000" stroke-width="1.9"/>
<circle cx="699.50" cy="1769.90" r="4.30" fill="#fff" stroke="#000" stroke-width="1.9"/>
<circle cx="699.50" cy="1750.22" r="4.30" fill="#fff" stroke="#000" stroke-width="1.9"/>
<circle cx="699.50" cy="1710.88" r="4.30" fill="#fff" stroke="#000" stroke-width="1.9"/>
<circle cx="699.50" cy="1701.04" r="4.30" fill="#fff" stroke="#000" stroke-width="1.9"/>
<circle cx="699.50" cy="1651.86" r="4.30" fill="#fff" stroke="#000" stroke-width="1.9"/>
<line x1="443.90" y1="1611.00" x2="443.90" y2="1909.10" stroke="#000" stroke-width="3"/>
<line x1="429.90" y1="1907.60" x2="738.60" y2="1907.60" stroke="#000" stroke-width="3"/>
<line x1="429.90" y1="1907.60" x2="443.90" y2="1907.60" stroke="#000" stroke-width="3"/>
<text x="426.40" y="1919.00" font-size="32.8" text-anchor="end" fill="#000">0</text>
<line x1="429.90" y1="1809.24" x2="443.90" y2="1809.24" stroke="#000" stroke-width="3"/>
<text x="426.40" y="1820.64" font-size="32.8" text-anchor="end" fill="#000">20</text>
<line x1="429.90" y1="1710.88" x2="443.90" y2="1710.88" stroke="#000" stroke-width="3"/>
<text x="426.40" y="1722.28" font-size="32.8" text-anchor="end" fill="#000">40</text>
<line x1="429.90" y1="1612.52" x2="443.90" y2="1612.52" stroke="#000" stroke-width="3"/>
<text x="426.40" y="1623.92" font-size="32.8" text-anchor="end" fill="#000">60</text>
<line x1="511.60" y1="1907.60" x2="511.60" y2="1919.60" stroke="#000" stroke-width="3"/>
<text x="511.60" y="1957.30" font-size="36.6" text-anchor="middle" fill="#000">virgin</text>
<line x1="669.30" y1="1907.60" x2="669.30" y2="1919.60" stroke="#000" stroke-width="3"/>
<text x="669.30" y="1957.30" font-size="36.6" text-anchor="middle" fill="#000">lactating</text>
<text x="330.80" y="1754.50" font-size="36.3" text-anchor="middle" fill="#000" transform="rotate(-90 330.80 1754.50)">food intake</text>
<text x="374.30" y="1754.50" font-size="36.3" text-anchor="middle" fill="#000" transform="rotate(-90 374.30 1754.50)">(# pellets)</text>
<line x1="738.60" y1="1611.00" x2="738.60" y2="1909.10" stroke="#000" stroke-width="3"/>
<line x1="738.60" y1="1907.60" x2="754.60" y2="1907.60" stroke="#000" stroke-width="3"/>
<text x="758.80" y="1918.80" font-size="33.2" fill="#000">0.0</text>
<line x1="738.60" y1="1809.24" x2="754.60" y2="1809.24" stroke="#000" stroke-width="3"/>
<text x="758.80" y="1820.44" font-size="33.2" fill="#000">1.2</text>
<line x1="738.60" y1="1710.88" x2="754.60" y2="1710.88" stroke="#000" stroke-width="3"/>
<text x="758.80" y="1722.08" font-size="33.2" fill="#000">2.4</text>
<line x1="738.60" y1="1612.52" x2="754.60" y2="1612.52" stroke="#000" stroke-width="3"/>
<text x="758.80" y="1623.72" font-size="33.2" fill="#000">3.6</text>
<text x="819.60" y="1755.90" font-size="36.3" text-anchor="middle" fill="#000" transform="rotate(90 819.60 1755.90)">food intake (kcal)</text>
<path d="M482.20 1634.80 V1616.80 H542.00 V1634.80" fill="none" stroke="#000" stroke-width="2"/>
<text x="512.10" y="1601.50" font-size="24.4" text-anchor="middle" font-weight="bold" fill="#000">0.0002</text>
<path d="M640.10 1634.80 V1616.80 H699.40 V1634.80" fill="none" stroke="#000" stroke-width="2"/>
<text x="670.05" y="1601.50" font-size="24.4" text-anchor="middle" font-weight="bold" fill="#000">&lt;0.0001</text>
</g>
<g>
<text x="960.50" y="1551.50" font-size="57" font-weight="bold" fill="#000">i</text>
<rect x="1077.15" y="1623.12" width="38.50" height="285.18" fill="#7d7d7d" stroke="#000" stroke-width="2"/>
<rect x="1136.35" y="1648.40" width="38.50" height="259.90" fill="#f7931e" stroke="#000" stroke-width="2"/>
<rect x="1234.15" y="1614.30" width="38.50" height="294.00" fill="#7d7d7d" stroke="#000" stroke-width="2"/>
<rect x="1292.95" y="1643.70" width="38.50" height="264.60" fill="#f7931e" stroke="#000" stroke-width="2"/>
<line x1="1096.40" y1="1614.30" x2="1155.60" y2="1614.30" stroke="#000" stroke-width="1.5"/>
<line x1="1253.40" y1="1614.30" x2="1312.20" y2="1614.30" stroke="#000" stroke-width="1.5"/>
<line x1="1096.40" y1="1673.10" x2="1155.60" y2="1614.30" stroke="#000" stroke-width="1.8" stroke-opacity="0.28"/>
<line x1="1096.40" y1="1614.30" x2="1155.60" y2="1849.50" stroke="#000" stroke-width="1.8" stroke-opacity="0.28"/>
<line x1="1253.40" y1="1614.30" x2="1312.20" y2="1790.70" stroke="#000" stroke-width="1.8" stroke-opacity="0.28"/>
<line x1="1096.40" y1="1614.30" x2="1096.40" y2="1631.35" stroke="#000" stroke-width="2"/>
<line x1="1091.40" y1="1614.30" x2="1101.40" y2="1614.30" stroke="#000" stroke-width="2"/>
<line x1="1091.40" y1="1631.35" x2="1101.40" y2="1631.35" stroke="#000" stroke-width="2"/>
<line x1="1155.60" y1="1614.30" x2="1155.60" y2="1681.33" stroke="#000" stroke-width="2"/>
<line x1="1150.60" y1="1614.30" x2="1160.60" y2="1614.30" stroke="#000" stroke-width="2"/>
<line x1="1150.60" y1="1681.33" x2="1160.60" y2="1681.33" stroke="#000" stroke-width="2"/>
<line x1="1312.20" y1="1614.30" x2="1312.20" y2="1673.10" stroke="#000" stroke-width="2"/>
<line x1="1307.20" y1="1614.30" x2="1317.20" y2="1614.30" stroke="#000" stroke-width="2"/>
<line x1="1307.20" y1="1673.10" x2="1317.20" y2="1673.10" stroke="#000" stroke-width="2"/>
<circle cx="1081.65" cy="1614.30" r="4.30" fill="#fff" stroke="#000" stroke-width="1.9"/>
<circle cx="1087.55" cy="1614.30" r="4.30" fill="#fff" stroke="#000" stroke-width="1.9"/>
<circle cx="1093.45" cy="1614.30" r="4.30" fill="#fff" stroke="#000" stroke-width="1.9"/>
<circle cx="1099.35" cy="1614.30" r="4.30" fill="#fff" stroke="#000" stroke-width="1.9"/>
<circle cx="1105.25" cy="1614.30" r="4.30" fill="#fff" stroke="#000" stroke-width="1.9"/>
<circle cx="1111.15" cy="1614.30" r="4.30" fill="#fff" stroke="#000" stroke-width="1.9"/>
<circle cx="1096.40" cy="1673.10" r="4.30" fill="#fff" stroke="#000" stroke-width="1.9"/>
<circle cx="1140.85" cy="1614.30" r="4.30" fill="#fff" stroke="#000" stroke-width="1.9"/>
<circle cx="1146.75" cy="1614.30" r="4.30" fill="#fff" stroke="#000" stroke-width="1.9"/>
<circle cx="1152.65" cy="1614.30" r="4.30" fill="#fff" stroke="#000" stroke-width="1.9"/>
<circle cx="1158.55" cy="1614.30" r="4.30" fill="#fff" stroke="#000" stroke-width="1.9"/>
<circle cx="1164.45" cy="1614.30" r="4.30" fill="#fff" stroke="#000" stroke-width="1.9"/>
<circle cx="1170.35" cy="1614.30" r="4.30" fill="#fff" stroke="#000" stroke-width="1.9"/>
<circle cx="1155.60" cy="1849.50" r="4.30" fill="#fff" stroke="#000" stroke-width="1.9"/>
<circle cx="1238.65" cy="1614.30" r="4.30" fill="#fff" stroke="#000" stroke-width="1.9"/>
<circle cx="1244.55" cy="1614.30" r="4.30" fill="#fff" stroke="#000" stroke-width="1.9"/>
<circle cx="1250.45" cy="1614.30" r="4.30" fill="#fff" stroke="#000" stroke-width="1.9"/>
<circle cx="1256.35" cy="1614.30" r="4.30" fill="#fff" stroke="#000" stroke-width="1.9"/>
<circle cx="1262.25" cy="1614.30" r="4.30" fill="#fff" stroke="#000" stroke-width="1.9"/>
<circle cx="1268.15" cy="1614.30" r="4.30" fill="#fff" stroke="#000" stroke-width="1.9"/>
<circle cx="1297.40" cy="1614.30" r="4.30" fill="#fff" stroke="#000" stroke-width="1.9"/>
<circle cx="1304.80" cy="1614.30" r="4.30" fill="#fff" stroke="#000" stroke-width="1.9"/>
<circle cx="1312.20" cy="1614.30" r="4.30" fill="#fff" stroke="#000" stroke-width="1.9"/>
<circle cx="1319.60" cy="1614.30" r="4.30" fill="#fff" stroke="#000" stroke-width="1.9"/>
<circle cx="1327.00" cy="1614.30" r="4.30" fill="#fff" stroke="#000" stroke-width="1.9"/>
<circle cx="1312.20" cy="1790.70" r="4.30" fill="#fff" stroke="#000" stroke-width="1.9"/>
<line x1="1057.20" y1="1612.80" x2="1057.20" y2="1909.80" stroke="#000" stroke-width="3"/>
<line x1="1044.20" y1="1908.30" x2="1351.80" y2="1908.30" stroke="#000" stroke-width="3"/>
<line x1="1044.20" y1="1908.30" x2="1057.20" y2="1908.30" stroke="#000" stroke-width="3"/>
<text x="1039.70" y="1919.70" font-size="32.8" text-anchor="end" fill="#000">0</text>
<line x1="1044.20" y1="1849.50" x2="1057.20" y2="1849.50" stroke="#000" stroke-width="3"/>
<text x="1039.70" y="1860.90" font-size="32.8" text-anchor="end" fill="#000">1</text>
<line x1="1044.20" y1="1790.70" x2="1057.20" y2="1790.70" stroke="#000" stroke-width="3"/>
<text x="1039.70" y="1802.10" font-size="32.8" text-anchor="end" fill="#000">2</text>
<line x1="1044.20" y1="1731.90" x2="1057.20" y2="1731.90" stroke="#000" stroke-width="3"/>
<text x="1039.70" y="1743.30" font-size="32.8" text-anchor="end" fill="#000">3</text>
<line x1="1044.20" y1="1673.10" x2="1057.20" y2="1673.10" stroke="#000" stroke-width="3"/>
<text x="1039.70" y="1684.50" font-size="32.8" text-anchor="end" fill="#000">4</text>
<line x1="1044.20" y1="1614.30" x2="1057.20" y2="1614.30" stroke="#000" stroke-width="3"/>
<text x="1039.70" y="1625.70" font-size="32.8" text-anchor="end" fill="#000">5</text>
<line x1="1125.90" y1="1908.30" x2="1125.90" y2="1920.30" stroke="#000" stroke-width="3"/>
<text x="1125.90" y="1957.30" font-size="36.6" text-anchor="middle" fill="#000">virgin</text>
<line x1="1282.40" y1="1908.30" x2="1282.40" y2="1920.30" stroke="#000" stroke-width="3"/>
<text x="1282.40" y="1957.30" font-size="36.6" text-anchor="middle" fill="#000">lactating</text>
<text x="1007.10" y="1756.00" font-size="36.3" text-anchor="middle" fill="#000" transform="rotate(-90 1007.10 1756.00)"># pups retrieved</text>
<path d="M1096.20 1597.40 V1579.10 H1155.30 V1597.40" fill="none" stroke="#000" stroke-width="2"/>
<text x="1125.75" y="1563.90" font-size="24.4" text-anchor="middle" fill="#000">0.4515</text>
<path d="M1253.00 1597.40 V1579.10 H1312.10 V1597.40" fill="none" stroke="#000" stroke-width="2"/>
<text x="1282.55" y="1563.90" font-size="24.4" text-anchor="middle" fill="#000">0.4171</text>
</g>
<g>
<text x="1453.50" y="1551.50" font-size="57" font-weight="bold" fill="#000">j</text>
<rect x="1668.25" y="1825.46" width="38.50" height="82.84" fill="#7d7d7d" stroke="#000" stroke-width="2"/>
<rect x="1727.05" y="1791.48" width="38.50" height="116.82" fill="#f7931e" stroke="#000" stroke-width="2"/>
<rect x="1824.95" y="1896.97" width="38.50" height="11.33" fill="#7d7d7d" stroke="#000" stroke-width="2"/>
<rect x="1883.75" y="1879.74" width="38.50" height="28.56" fill="#f7931e" stroke="#000" stroke-width="2"/>
<line x1="1687.50" y1="1721.86" x2="1746.30" y2="1671.71" stroke="#000" stroke-width="1.8" stroke-opacity="0.28"/>
<line x1="1687.50" y1="1749.00" x2="1746.30" y2="1711.83" stroke="#000" stroke-width="1.8" stroke-opacity="0.28"/>
<line x1="1687.50" y1="1840.45" x2="1746.30" y2="1774.96" stroke="#000" stroke-width="1.8" stroke-opacity="0.28"/>
<line x1="1687.50" y1="1840.45" x2="1746.30" y2="1858.74" stroke="#000" stroke-width="1.8" stroke-opacity="0.28"/>
<line x1="1687.50" y1="1868.18" x2="1746.30" y2="1809.18" stroke="#000" stroke-width="1.8" stroke-opacity="0.28"/>
<line x1="1687.50" y1="1868.18" x2="1746.30" y2="1826.88" stroke="#000" stroke-width="1.8" stroke-opacity="0.28"/>
<line x1="1687.50" y1="1882.93" x2="1746.30" y2="1882.34" stroke="#000" stroke-width="1.8" stroke-opacity="0.28"/>
<line x1="1844.20" y1="1879.98" x2="1903.00" y2="1888.24" stroke="#000" stroke-width="1.8" stroke-opacity="0.28"/>
<line x1="1844.20" y1="1891.78" x2="1903.00" y2="1846.35" stroke="#000" stroke-width="1.8" stroke-opacity="0.28"/>
<line x1="1844.20" y1="1896.97" x2="1903.00" y2="1854.61" stroke="#000" stroke-width="1.8" stroke-opacity="0.28"/>
<line x1="1844.20" y1="1901.22" x2="1903.00" y2="1879.98" stroke="#000" stroke-width="1.8" stroke-opacity="0.28"/>
<line x1="1844.20" y1="1905.35" x2="1903.00" y2="1903.58" stroke="#000" stroke-width="1.8" stroke-opacity="0.28"/>
<line x1="1844.20" y1="1901.22" x2="1903.00" y2="1898.86" stroke="#000" stroke-width="1.8" stroke-opacity="0.28"/>
<line x1="1687.50" y1="1800.68" x2="1687.50" y2="1848.12" stroke="#000" stroke-width="2"/>
<line x1="1682.00" y1="1800.68" x2="1693.00" y2="1800.68" stroke="#000" stroke-width="2"/>
<line x1="1682.00" y1="1848.12" x2="1693.00" y2="1848.12" stroke="#000" stroke-width="2"/>
<line x1="1746.30" y1="1761.63" x2="1746.30" y2="1820.04" stroke="#000" stroke-width="2"/>
<line x1="1740.80" y1="1761.63" x2="1751.80" y2="1761.63" stroke="#000" stroke-width="2"/>
<line x1="1740.80" y1="1820.04" x2="1751.80" y2="1820.04" stroke="#000" stroke-width="2"/>
<line x1="1844.20" y1="1891.78" x2="1844.20" y2="1901.81" stroke="#000" stroke-width="2"/>
<line x1="1838.70" y1="1891.78" x2="1849.70" y2="1891.78" stroke="#000" stroke-width="2"/>
<line x1="1838.70" y1="1901.81" x2="1849.70" y2="1901.81" stroke="#000" stroke-width="2"/>
<line x1="1903.00" y1="1869.60" x2="1903.00" y2="1889.42" stroke="#000" stroke-width="2"/>
<line x1="1897.50" y1="1869.60" x2="1908.50" y2="1869.60" stroke="#000" stroke-width="2"/>
<line x1="1897.50" y1="1889.42" x2="1908.50" y2="1889.42" stroke="#000" stroke-width="2"/>
<circle cx="1687.50" cy="1721.86" r="4.30" fill="#fff" stroke="#000" stroke-width="1.9"/>
<circle cx="1687.50" cy="1749.00" r="4.30" fill="#fff" stroke="#000" stroke-width="1.9"/>
<circle cx="1687.50" cy="1840.45" r="4.30" fill="#fff" stroke="#000" stroke-width="1.9"/>
<circle cx="1687.50" cy="1840.45" r="4.30" fill="#fff" stroke="#000" stroke-width="1.9"/>
<circle cx="1687.50" cy="1868.18" r="4.30" fill="#fff" stroke="#000" stroke-width="1.9"/>
<circle cx="1687.50" cy="1868.18" r="4.30" fill="#fff" stroke="#000" stroke-width="1.9"/>
<circle cx="1687.50" cy="1882.93" r="4.30" fill="#fff" stroke="#000" stroke-width="1.9"/>
<circle cx="1746.30" cy="1671.71" r="4.30" fill="#fff" stroke="#000" stroke-width="1.9"/>
<circle cx="1746.30" cy="1711.83" r="4.30" fill="#fff" stroke="#000" stroke-width="1.9"/>
<circle cx="1746.30" cy="1774.96" r="4.30" fill="#fff" stroke="#000" stroke-width="1.9"/>
<circle cx="1746.30" cy="1858.74" r="4.30" fill="#fff" stroke="#000" stroke-width="1.9"/>
<circle cx="1746.30" cy="1809.18" r="4.30" fill="#fff" stroke="#000" stroke-width="1.9"/>
<circle cx="1746.30" cy="1826.88" r="4.30" fill="#fff" stroke="#000" stroke-width="1.9"/>
<circle cx="1746.30" cy="1882.34" r="4.30" fill="#fff" stroke="#000" stroke-width="1.9"/>
<circle cx="1844.20" cy="1879.98" r="4.30" fill="#fff" stroke="#000" stroke-width="1.9"/>
<circle cx="1844.20" cy="1891.78" r="4.30" fill="#fff" stroke="#000" stroke-width="1.9"/>
<circle cx="1844.20" cy="1896.97" r="4.30" fill="#fff" stroke="#000" stroke-width="1.9"/>
<circle cx="1844.20" cy="1901.22" r="4.30" fill="#fff" stroke="#000" stroke-width="1.9"/>
<circle cx="1844.20" cy="1905.35" r="4.30" fill="#fff" stroke="#000" stroke-width="1.9"/>
<circle cx="1844.20" cy="1901.22" r="4.30" fill="#fff" stroke="#000" stroke-width="1.9"/>
<circle cx="1903.00" cy="1888.24" r="4.30" fill="#fff" stroke="#000" stroke-width="1.9"/>
<circle cx="1903.00" cy="1846.35" r="4.30" fill="#fff" stroke="#000" stroke-width="1.9"/>
<circle cx="1903.00" cy="1854.61" r="4.30" fill="#fff" stroke="#000" stroke-width="1.9"/>
<circle cx="1903.00" cy="1879.98" r="4.30" fill="#fff" stroke="#000" stroke-width="1.9"/>
<circle cx="1903.00" cy="1903.58" r="4.30" fill="#fff" stroke="#000" stroke-width="1.9"/>
<circle cx="1903.00" cy="1898.86" r="4.30" fill="#fff" stroke="#000" stroke-width="1.9"/>
<line x1="1648.00" y1="1612.00" x2="1648.00" y2="1909.80" stroke="#000" stroke-width="3"/>
<line x1="1635.00" y1="1908.30" x2="1942.30" y2="1908.30" stroke="#000" stroke-width="3"/>
<line x1="1635.00" y1="1908.30" x2="1648.00" y2="1908.30" stroke="#000" stroke-width="3"/>
<text x="1630.50" y="1919.70" font-size="32.8" text-anchor="end" fill="#000">0</text>
<line x1="1635.00" y1="1849.30" x2="1648.00" y2="1849.30" stroke="#000" stroke-width="3"/>
<text x="1630.50" y="1860.70" font-size="32.8" text-anchor="end" fill="#000">500</text>
<line x1="1635.00" y1="1790.30" x2="1648.00" y2="1790.30" stroke="#000" stroke-width="3"/>
<text x="1630.50" y="1801.70" font-size="32.8" text-anchor="end" fill="#000">1000</text>
<line x1="1635.00" y1="1731.30" x2="1648.00" y2="1731.30" stroke="#000" stroke-width="3"/>
<text x="1630.50" y="1742.70" font-size="32.8" text-anchor="end" fill="#000">1500</text>
<line x1="1635.00" y1="1672.30" x2="1648.00" y2="1672.30" stroke="#000" stroke-width="3"/>
<text x="1630.50" y="1683.70" font-size="32.8" text-anchor="end" fill="#000">2000</text>
<line x1="1635.00" y1="1613.30" x2="1648.00" y2="1613.30" stroke="#000" stroke-width="3"/>
<text x="1630.50" y="1624.70" font-size="32.8" text-anchor="end" fill="#000">2500</text>
<line x1="1716.80" y1="1908.30" x2="1716.80" y2="1920.30" stroke="#000" stroke-width="3"/>
<text x="1716.80" y="1956.70" font-size="36.6" text-anchor="middle" fill="#000">virgin</text>
<line x1="1873.20" y1="1908.30" x2="1873.20" y2="1920.30" stroke="#000" stroke-width="3"/>
<text x="1873.20" y="1956.70" font-size="36.6" text-anchor="middle" fill="#000">lactating</text>
<text x="1500.20" y="1754.60" font-size="36.3" text-anchor="middle" fill="#000" transform="rotate(-90 1500.20 1754.60)">pup retrieval</text>
<text x="1541.60" y="1754.60" font-size="36.3" text-anchor="middle" fill="#000" transform="rotate(-90 1541.60 1754.60)">onset (s)</text>
<path d="M1687.00 1654.40 V1636.80 H1746.10 V1654.40" fill="none" stroke="#000" stroke-width="2"/>
<text x="1716.55" y="1620.90" font-size="24.4" text-anchor="middle" font-weight="bold" fill="#000">0.0207</text>
<path d="M1844.20 1654.40 V1636.80 H1903.30 V1654.40" fill="none" stroke="#000" stroke-width="2"/>
<text x="1873.75" y="1620.90" font-size="24.4" text-anchor="middle" fill="#000">0.3058</text>
</g>
<g>
<text x="168.00" y="2087.40" font-size="57" font-weight="bold" fill="#000">k</text>
<rect x="286.95" y="2155.30" width="38.70" height="295.20" fill="#7d7d7d" stroke="#000" stroke-width="2"/>
<rect x="346.15" y="2176.33" width="38.70" height="274.17" fill="#f7931e" stroke="#000" stroke-width="2"/>
<rect x="444.95" y="2155.30" width="38.70" height="295.20" fill="#7d7d7d" stroke="#000" stroke-width="2"/>
<rect x="504.05" y="2167.62" width="38.70" height="282.88" fill="#f7931e" stroke="#000" stroke-width="2"/>
<line x1="306.30" y1="2155.30" x2="365.50" y2="2155.30" stroke="#000" stroke-width="1.5"/>
<line x1="464.30" y1="2155.30" x2="523.40" y2="2155.30" stroke="#000" stroke-width="1.5"/>
<line x1="306.30" y1="2155.30" x2="365.50" y2="2302.90" stroke="#000" stroke-width="1.8" stroke-opacity="0.28"/>
<line x1="467.30" y1="2155.30" x2="523.40" y2="2229.10" stroke="#000" stroke-width="1.8" stroke-opacity="0.28"/>
<line x1="365.50" y1="2155.30" x2="365.50" y2="2197.37" stroke="#000" stroke-width="2"/>
<line x1="360.00" y1="2155.30" x2="371.00" y2="2155.30" stroke="#000" stroke-width="2"/>
<line x1="360.00" y1="2197.37" x2="371.00" y2="2197.37" stroke="#000" stroke-width="2"/>
<line x1="523.40" y1="2155.30" x2="523.40" y2="2179.65" stroke="#000" stroke-width="2"/>
<line x1="517.90" y1="2155.30" x2="528.90" y2="2155.30" stroke="#000" stroke-width="2"/>
<line x1="517.90" y1="2179.65" x2="528.90" y2="2179.65" stroke="#000" stroke-width="2"/>
<circle cx="291.30" cy="2155.30" r="4.30" fill="#fff" stroke="#000" stroke-width="1.9"/>
<circle cx="296.30" cy="2155.30" r="4.30" fill="#fff" stroke="#000" stroke-width="1.9"/>
<circle cx="301.30" cy="2155.30" r="4.30" fill="#fff" stroke="#000" stroke-width="1.9"/>
<circle cx="306.30" cy="2155.30" r="4.30" fill="#fff" stroke="#000" stroke-width="1.9"/>
<circle cx="311.30" cy="2155.30" r="4.30" fill="#fff" stroke="#000" stroke-width="1.9"/>
<circle cx="316.30" cy="2155.30" r="4.30" fill="#fff" stroke="#000" stroke-width="1.9"/>
<circle cx="321.30" cy="2155.30" r="4.30" fill="#fff" stroke="#000" stroke-width="1.9"/>
<circle cx="349.75" cy="2155.30" r="4.30" fill="#fff" stroke="#000" stroke-width="1.9"/>
<circle cx="356.05" cy="2155.30" r="4.30" fill="#fff" stroke="#000" stroke-width="1.9"/>
<circle cx="362.35" cy="2155.30" r="4.30" fill="#fff" stroke="#000" stroke-width="1.9"/>
<circle cx="368.65" cy="2155.30" r="4.30" fill="#fff" stroke="#000" stroke-width="1.9"/>
<circle cx="374.95" cy="2155.30" r="4.30" fill="#fff" stroke="#000" stroke-width="1.9"/>
<circle cx="381.25" cy="2155.30" r="4.30" fill="#fff" stroke="#000" stroke-width="1.9"/>
<circle cx="365.50" cy="2302.90" r="4.30" fill="#fff" stroke="#000" stroke-width="1.9"/>
<circle cx="448.80" cy="2155.30" r="4.30" fill="#fff" stroke="#000" stroke-width="1.9"/>
<circle cx="455.00" cy="2155.30" r="4.30" fill="#fff" stroke="#000" stroke-width="1.9"/>
<circle cx="461.20" cy="2155.30" r="4.30" fill="#fff" stroke="#000" stroke-width="1.9"/>
<circle cx="467.40" cy="2155.30" r="4.30" fill="#fff" stroke="#000" stroke-width="1.9"/>
<circle cx="473.60" cy="2155.30" r="4.30" fill="#fff" stroke="#000" stroke-width="1.9"/>
<circle cx="479.80" cy="2155.30" r="4.30" fill="#fff" stroke="#000" stroke-width="1.9"/>
<circle cx="508.20" cy="2155.30" r="4.30" fill="#fff" stroke="#000" stroke-width="1.9"/>
<circle cx="515.80" cy="2155.30" r="4.30" fill="#fff" stroke="#000" stroke-width="1.9"/>
<circle cx="523.40" cy="2155.30" r="4.30" fill="#fff" stroke="#000" stroke-width="1.9"/>
<circle cx="531.00" cy="2155.30" r="4.30" fill="#fff" stroke="#000" stroke-width="1.9"/>
<circle cx="538.60" cy="2155.30" r="4.30" fill="#fff" stroke="#000" stroke-width="1.9"/>
<circle cx="523.40" cy="2229.10" r="4.30" fill="#fff" stroke="#000" stroke-width="1.9"/>
<line x1="268.10" y1="2153.80" x2="268.10" y2="2452.00" stroke="#000" stroke-width="3"/>
<line x1="255.10" y1="2450.50" x2="562.80" y2="2450.50" stroke="#000" stroke-width="3"/>
<line x1="255.10" y1="2450.50" x2="268.10" y2="2450.50" stroke="#000" stroke-width="3"/>
<text x="250.60" y="2461.90" font-size="32.8" text-anchor="end" fill="#000">0</text>
<line x1="255.10" y1="2376.70" x2="268.10" y2="2376.70" stroke="#000" stroke-width="3"/>
<text x="250.60" y="2388.10" font-size="32.8" text-anchor="end" fill="#000">1</text>
<line x1="255.10" y1="2302.90" x2="268.10" y2="2302.90" stroke="#000" stroke-width="3"/>
<text x="250.60" y="2314.30" font-size="32.8" text-anchor="end" fill="#000">2</text>
<line x1="255.10" y1="2229.10" x2="268.10" y2="2229.10" stroke="#000" stroke-width="3"/>
<text x="250.60" y="2240.50" font-size="32.8" text-anchor="end" fill="#000">3</text>
<line x1="255.10" y1="2155.30" x2="268.10" y2="2155.30" stroke="#000" stroke-width="3"/>
<text x="250.60" y="2166.70" font-size="32.8" text-anchor="end" fill="#000">4</text>
<line x1="335.50" y1="2450.50" x2="335.50" y2="2462.50" stroke="#000" stroke-width="3"/>
<text x="335.50" y="2499.90" font-size="36.6" text-anchor="middle" fill="#000">virgin</text>
<line x1="493.60" y1="2450.50" x2="493.60" y2="2462.50" stroke="#000" stroke-width="3"/>
<text x="493.60" y="2499.90" font-size="36.6" text-anchor="middle" fill="#000">lactating</text>
<text x="216.30" y="2296.80" font-size="36.3" text-anchor="middle" fill="#000" transform="rotate(-90 216.30 2296.80)">nest score</text>
<path d="M306.50 2138.30 V2119.70 H365.70 V2138.30" fill="none" stroke="#000" stroke-width="2"/>
<text x="336.10" y="2104.70" font-size="24.4" text-anchor="middle" fill="#000">0.4375</text>
<path d="M464.00 2138.30 V2119.70 H523.20 V2138.30" fill="none" stroke="#000" stroke-width="2"/>
<text x="493.60" y="2104.70" font-size="24.4" text-anchor="middle" fill="#000">0.7747</text>
</g>
<g>
<text x="682.00" y="2086.20" font-size="57" font-weight="bold" fill="#000">l</text>
<line x1="864.20" y1="2171.10" x2="864.20" y2="2262.04" stroke="#000" stroke-width="1.7"/>
<line x1="853.80" y1="2171.10" x2="874.60" y2="2171.10" stroke="#000" stroke-width="1.7"/>
<line x1="853.80" y1="2262.04" x2="874.60" y2="2262.04" stroke="#000" stroke-width="1.7"/>
<rect x="845.05" y="2185.15" width="38.30" height="54.71" fill="#7d7d7d" stroke="#000" stroke-width="1.7"/>
<line x1="845.05" y1="2220.93" x2="883.35" y2="2220.93" stroke="#000" stroke-width="1.7"/>
<line x1="923.40" y1="2208.81" x2="923.40" y2="2338.93" stroke="#000" stroke-width="1.7"/>
<line x1="913.00" y1="2208.81" x2="933.80" y2="2208.81" stroke="#000" stroke-width="1.7"/>
<line x1="913.00" y1="2338.93" x2="933.80" y2="2338.93" stroke="#000" stroke-width="1.7"/>
<rect x="904.25" y="2236.16" width="38.30" height="62.10" fill="#f7931e" stroke="#000" stroke-width="1.7"/>
<line x1="904.25" y1="2266.47" x2="942.55" y2="2266.47" stroke="#000" stroke-width="1.7"/>
<line x1="1021.90" y1="2215.46" x2="1021.90" y2="2287.91" stroke="#000" stroke-width="1.7"/>
<line x1="1011.50" y1="2215.46" x2="1032.30" y2="2215.46" stroke="#000" stroke-width="1.7"/>
<line x1="1011.50" y1="2287.91" x2="1032.30" y2="2287.91" stroke="#000" stroke-width="1.7"/>
<rect x="1002.75" y="2248.73" width="38.30" height="31.79" fill="#7d7d7d" stroke="#000" stroke-width="1.7"/>
<line x1="1002.75" y1="2265.73" x2="1041.05" y2="2265.73" stroke="#000" stroke-width="1.7"/>
<line x1="1080.90" y1="2271.65" x2="1080.90" y2="2340.40" stroke="#000" stroke-width="1.7"/>
<line x1="1070.50" y1="2271.65" x2="1091.30" y2="2271.65" stroke="#000" stroke-width="1.7"/>
<line x1="1070.50" y1="2340.40" x2="1091.30" y2="2340.40" stroke="#000" stroke-width="1.7"/>
<rect x="1061.75" y="2299.00" width="38.30" height="21.44" fill="#f7931e" stroke="#000" stroke-width="1.7"/>
<line x1="1061.75" y1="2311.13" x2="1100.05" y2="2311.13" stroke="#000" stroke-width="1.7"/>
<line x1="830.6" y1="2302.7" x2="1121" y2="2302.7" stroke="#000" stroke-width="3.2" stroke-linecap="round" stroke-dasharray="0.01 6.1"/>
<line x1="864.20" y1="2171.10" x2="923.40" y2="2208.81" stroke="#000" stroke-width="1.8" stroke-opacity="0.28"/>
<line x1="864.20" y1="2185.15" x2="923.40" y2="2236.16" stroke="#000" stroke-width="1.8" stroke-opacity="0.28"/>
<line x1="864.20" y1="2195.50" x2="923.40" y2="2278.30" stroke="#000" stroke-width="1.8" stroke-opacity="0.28"/>
<line x1="864.20" y1="2220.93" x2="923.40" y2="2262.04" stroke="#000" stroke-width="1.8" stroke-opacity="0.28"/>
<line x1="864.20" y1="2233.95" x2="923.40" y2="2299.00" stroke="#000" stroke-width="1.8" stroke-opacity="0.28"/>
<line x1="864.20" y1="2240.60" x2="923.40" y2="2338.93" stroke="#000" stroke-width="1.8" stroke-opacity="0.28"/>
<line x1="864.20" y1="2262.04" x2="923.40" y2="2267.21" stroke="#000" stroke-width="1.8" stroke-opacity="0.28"/>
<line x1="1021.90" y1="2215.46" x2="1080.90" y2="2307.14" stroke="#000" stroke-width="1.8" stroke-opacity="0.28"/>
<line x1="1021.90" y1="2259.82" x2="1080.90" y2="2315.27" stroke="#000" stroke-width="1.8" stroke-opacity="0.28"/>
<line x1="1021.90" y1="2271.65" x2="1080.90" y2="2340.40" stroke="#000" stroke-width="1.8" stroke-opacity="0.28"/>
<line x1="1021.90" y1="2278.30" x2="1080.90" y2="2271.65" stroke="#000" stroke-width="1.8" stroke-opacity="0.28"/>
<line x1="1021.90" y1="2287.91" x2="1080.90" y2="2307.14" stroke="#000" stroke-width="1.8" stroke-opacity="0.28"/>
<circle cx="864.20" cy="2171.10" r="2.75" fill="#fff" stroke="#000" stroke-width="1.7"/>
<circle cx="864.20" cy="2185.15" r="2.75" fill="#fff" stroke="#000" stroke-width="1.7"/>
<circle cx="864.20" cy="2195.50" r="2.75" fill="#fff" stroke="#000" stroke-width="1.7"/>
<circle cx="864.20" cy="2220.93" r="2.75" fill="#fff" stroke="#000" stroke-width="1.7"/>
<circle cx="864.20" cy="2233.95" r="2.75" fill="#fff" stroke="#000" stroke-width="1.7"/>
<circle cx="864.20" cy="2240.60" r="2.75" fill="#fff" stroke="#000" stroke-width="1.7"/>
<circle cx="864.20" cy="2262.04" r="2.75" fill="#fff" stroke="#000" stroke-width="1.7"/>
<circle cx="923.40" cy="2208.81" r="2.75" fill="#fff" stroke="#000" stroke-width="1.7"/>
<circle cx="923.40" cy="2236.16" r="2.75" fill="#fff" stroke="#000" stroke-width="1.7"/>
<circle cx="923.40" cy="2262.04" r="2.75" fill="#fff" stroke="#000" stroke-width="1.7"/>
<circle cx="923.40" cy="2267.21" r="2.75" fill="#fff" stroke="#000" stroke-width="1.7"/>
<circle cx="923.40" cy="2278.30" r="2.75" fill="#fff" stroke="#000" stroke-width="1.7"/>
<circle cx="923.40" cy="2299.00" r="2.75" fill="#fff" stroke="#000" stroke-width="1.7"/>
<circle cx="923.40" cy="2338.93" r="2.75" fill="#fff" stroke="#000" stroke-width="1.7"/>
<circle cx="1021.90" cy="2215.46" r="2.75" fill="#fff" stroke="#000" stroke-width="1.7"/>
<circle cx="1021.90" cy="2259.82" r="2.75" fill="#fff" stroke="#000" stroke-width="1.7"/>
<circle cx="1021.90" cy="2271.65" r="2.75" fill="#fff" stroke="#000" stroke-width="1.7"/>
<circle cx="1021.90" cy="2278.30" r="2.75" fill="#fff" stroke="#000" stroke-width="1.7"/>
<circle cx="1021.90" cy="2287.91" r="2.75" fill="#fff" stroke="#000" stroke-width="1.7"/>
<circle cx="1080.90" cy="2271.65" r="2.75" fill="#fff" stroke="#000" stroke-width="1.7"/>
<circle cx="1080.90" cy="2307.14" r="2.75" fill="#fff" stroke="#000" stroke-width="1.7"/>
<circle cx="1080.90" cy="2315.27" r="2.75" fill="#fff" stroke="#000" stroke-width="1.7"/>
<circle cx="1080.90" cy="2307.14" r="2.75" fill="#fff" stroke="#000" stroke-width="1.7"/>
<circle cx="1080.90" cy="2340.40" r="2.75" fill="#fff" stroke="#000" stroke-width="1.7"/>
<line x1="824.80" y1="2153.40" x2="824.80" y2="2452.10" stroke="#000" stroke-width="3"/>
<line x1="811.80" y1="2450.60" x2="1120.10" y2="2450.60" stroke="#000" stroke-width="3"/>
<line x1="811.80" y1="2154.84" x2="824.80" y2="2154.84" stroke="#000" stroke-width="3"/>
<text x="807.30" y="2166.24" font-size="32.8" text-anchor="end" fill="#000">1.0</text>
<line x1="811.80" y1="2228.77" x2="824.80" y2="2228.77" stroke="#000" stroke-width="3"/>
<text x="807.30" y="2240.17" font-size="32.8" text-anchor="end" fill="#000">0.5</text>
<line x1="811.80" y1="2302.70" x2="824.80" y2="2302.70" stroke="#000" stroke-width="3"/>
<text x="807.30" y="2314.10" font-size="32.8" text-anchor="end" fill="#000">0.0</text>
<line x1="811.80" y1="2376.63" x2="824.80" y2="2376.63" stroke="#000" stroke-width="3"/>
<text x="807.30" y="2388.03" font-size="32.8" text-anchor="end" fill="#000">-0.5</text>
<line x1="811.80" y1="2450.56" x2="824.80" y2="2450.56" stroke="#000" stroke-width="3"/>
<text x="807.30" y="2461.96" font-size="32.8" text-anchor="end" fill="#000">-1.0</text>
<line x1="893.50" y1="2450.60" x2="893.50" y2="2462.60" stroke="#000" stroke-width="3"/>
<text x="893.50" y="2499.70" font-size="36.6" text-anchor="middle" fill="#000">virgin</text>
<line x1="1051.40" y1="2450.60" x2="1051.40" y2="2462.60" stroke="#000" stroke-width="3"/>
<text x="1051.40" y="2499.70" font-size="36.6" text-anchor="middle" fill="#000">lactating</text>
<text x="734.00" y="2296.70" font-size="36.3" text-anchor="middle" fill="#000" transform="rotate(-90 734.00 2296.70)">preference index</text>
<path d="M863.90 2153.70 V2136.00 H923.60 V2153.70" fill="none" stroke="#000" stroke-width="2"/>
<text x="894.75" y="2120.10" font-size="24.4" text-anchor="middle" font-weight="bold" fill="#000">0.0030</text>
<path d="M1021.50 2153.70 V2136.00 H1081.20 V2153.70" fill="none" stroke="#000" stroke-width="2"/>
<text x="1052.35" y="2120.10" font-size="24.4" text-anchor="middle" font-weight="bold" fill="#000">0.0132</text>
<text x="1135.00" y="2221.80" font-size="27.9" text-anchor="middle" fill="#000" transform="rotate(90 1135.00 2221.80)">parenting</text>
<text x="1135.00" y="2386.60" font-size="27.9" text-anchor="middle" fill="#000" transform="rotate(90 1135.00 2386.60)">feeding</text>
</g>
<g>
<text x="1277.00" y="2086.50" font-size="57" font-weight="bold" fill="#000">m</text>
<text x="1667.00" y="2102.60" font-size="41.6" text-anchor="middle" fill="#000">fasted + pups</text>
<line x1="1522.80" y1="2194.50" x2="1650.10" y2="2313.00" stroke="#ee7777" stroke-width="1.6"/>
<line x1="1524.40" y1="2321.00" x2="1772.60" y2="2380.60" stroke="#000" stroke-width="1.6"/>
<circle cx="1670.20" cy="2288.00" r="6.20" fill="#7f7f7f" stroke="#000" stroke-width="1.5"/>
<circle cx="1524.40" cy="2327.90" r="6.20" fill="#7f7f7f" stroke="#000" stroke-width="1.5"/>
<circle cx="1603.40" cy="2342.40" r="6.20" fill="#7f7f7f" stroke="#000" stroke-width="1.5"/>
<circle cx="1634.00" cy="2347.20" r="6.20" fill="#7f7f7f" stroke="#000" stroke-width="1.5"/>
<circle cx="1658.20" cy="2381.90" r="6.20" fill="#7f7f7f" stroke="#000" stroke-width="1.5"/>
<circle cx="1716.60" cy="2386.70" r="6.20" fill="#7f7f7f" stroke="#000" stroke-width="1.5"/>
<circle cx="1772.60" cy="2386.70" r="6.20" fill="#7f7f7f" stroke="#000" stroke-width="1.5"/>
<circle cx="1522.80" cy="2194.50" r="6.20" fill="#f07f7f" stroke="#000" stroke-width="1.5"/>
<circle cx="1574.70" cy="2194.50" r="6.20" fill="#f07f7f" stroke="#000" stroke-width="1.5"/>
<circle cx="1587.60" cy="2243.70" r="6.20" fill="#f07f7f" stroke="#000" stroke-width="1.5"/>
<circle cx="1580.40" cy="2253.70" r="6.20" fill="#f07f7f" stroke="#000" stroke-width="1.5"/>
<circle cx="1587.60" cy="2293.60" r="6.20" fill="#f07f7f" stroke="#000" stroke-width="1.5"/>
<circle cx="1650.10" cy="2313.00" r="6.20" fill="#f07f7f" stroke="#000" stroke-width="1.5"/>
<line x1="1443.40" y1="2153.50" x2="1443.40" y2="2452.70" stroke="#000" stroke-width="3"/>
<line x1="1431.40" y1="2451.20" x2="1888.60" y2="2451.20" stroke="#000" stroke-width="3"/>
<line x1="1431.40" y1="2451.20" x2="1443.40" y2="2451.20" stroke="#000" stroke-width="3"/>
<text x="1425.40" y="2462.70" font-size="33.4" text-anchor="end" fill="#000">0</text>
<line x1="1431.40" y1="2352.47" x2="1443.40" y2="2352.47" stroke="#000" stroke-width="3"/>
<text x="1425.40" y="2363.97" font-size="33.4" text-anchor="end" fill="#000">20</text>
<line x1="1431.40" y1="2253.74" x2="1443.40" y2="2253.74" stroke="#000" stroke-width="3"/>
<text x="1425.40" y="2265.24" font-size="33.4" text-anchor="end" fill="#000">40</text>
<line x1="1431.40" y1="2155.01" x2="1443.40" y2="2155.01" stroke="#000" stroke-width="3"/>
<text x="1425.40" y="2166.51" font-size="33.4" text-anchor="end" fill="#000">60</text>
<line x1="1443.40" y1="2451.20" x2="1443.40" y2="2463.20" stroke="#000" stroke-width="3"/>
<text x="1443.40" y="2495.50" font-size="33.4" text-anchor="middle" fill="#000">20</text>
<line x1="1554.32" y1="2451.20" x2="1554.32" y2="2463.20" stroke="#000" stroke-width="3"/>
<text x="1554.32" y="2495.50" font-size="33.4" text-anchor="middle" fill="#000">40</text>
<line x1="1665.24" y1="2451.20" x2="1665.24" y2="2463.20" stroke="#000" stroke-width="3"/>
<text x="1665.24" y="2495.50" font-size="33.4" text-anchor="middle" fill="#000">60</text>
<line x1="1776.16" y1="2451.20" x2="1776.16" y2="2463.20" stroke="#000" stroke-width="3"/>
<text x="1776.16" y="2495.50" font-size="33.4" text-anchor="middle" fill="#000">80</text>
<line x1="1887.08" y1="2451.20" x2="1887.08" y2="2463.20" stroke="#000" stroke-width="3"/>
<text x="1887.08" y="2495.50" font-size="33.4" text-anchor="middle" fill="#000">100</text>
<text x="1331.70" y="2298.00" font-size="36.3" text-anchor="middle" fill="#000" transform="rotate(-90 1331.70 2298.00)">food intake</text>
<text x="1376.90" y="2298.00" font-size="36.3" text-anchor="middle" fill="#000" transform="rotate(-90 1376.90 2298.00)">(# pellets)</text>
<text x="1667.00" y="2545.10" font-size="36.3" text-anchor="middle" fill="#000">% time in parenting chamber</text>
<text x="1610.60" y="2169.90" font-size="24" font-weight="bold" fill="#f08080">lactating</text>
<text x="1610.60" y="2202.20" font-size="24" fill="#f08080">R<tspan font-size="17" dy="-8.5">2</tspan><tspan dy="8.5"> = 0.6742</tspan></text>
<text x="1610.60" y="2231.60" font-size="24" fill="#f08080">p = <tspan font-weight="bold">0.0452</tspan></text>
<text x="1737.50" y="2294.00" font-size="24" font-weight="bold" fill="#808080">virgin</text>
<text x="1737.50" y="2325.50" font-size="24" fill="#808080">R<tspan font-size="17" dy="-8.5">2</tspan><tspan dy="8.5"> = 0.2710</tspan></text>
<text x="1737.50" y="2355.30" font-size="24" fill="#808080">p = 0.2309</text>
</g>
</svg>
</body>
</html>
